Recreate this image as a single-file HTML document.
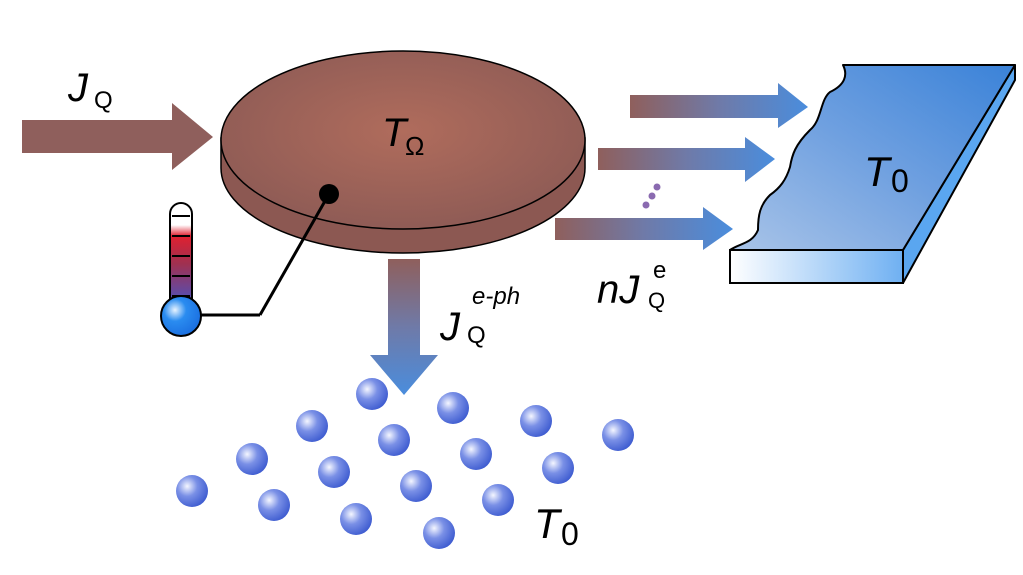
<!DOCTYPE html>
<html><head><meta charset="utf-8"><style>
html,body{margin:0;padding:0;background:#fff;width:1023px;height:575px;overflow:hidden}
svg{display:block}
text{font-family:"Liberation Sans",sans-serif;fill:#000}
</style></head><body>
<svg width="1023" height="575" viewBox="0 0 1023 575" xmlns="http://www.w3.org/2000/svg">
<defs>
<radialGradient id="disk" cx="0.5" cy="0.45" r="0.6">
<stop offset="0" stop-color="#b06c5c"/><stop offset="1" stop-color="#8c5a55"/>
</radialGradient>
<linearGradient id="hg" x1="0" y1="0" x2="1" y2="0">
<stop offset="0" stop-color="#8f5f5c"/><stop offset="0.5" stop-color="#6f7aa8"/><stop offset="1" stop-color="#4a8ddd"/>
</linearGradient>
<linearGradient id="vg" x1="0" y1="0" x2="0" y2="1">
<stop offset="0" stop-color="#8f5f5c"/><stop offset="0.5" stop-color="#6f7aa8"/><stop offset="1" stop-color="#4a8ddd"/>
</linearGradient>
<linearGradient id="slab" x1="0" y1="1" x2="1" y2="0">
<stop offset="0" stop-color="#a9c4e8"/><stop offset="0.5" stop-color="#6fa0e0"/><stop offset="1" stop-color="#3a82d8"/>
</linearGradient>
<linearGradient id="front" x1="0" y1="0" x2="1" y2="0">
<stop offset="0" stop-color="#ffffff"/><stop offset="1" stop-color="#6fb0f2"/>
</linearGradient>
<linearGradient id="therm" x1="0" y1="0" x2="0" y2="1">
<stop offset="0" stop-color="#fff"/><stop offset="0.2" stop-color="#fff"/><stop offset="0.3" stop-color="#e02030"/><stop offset="0.55" stop-color="#a03050"/><stop offset="1" stop-color="#3a5ad8"/>
</linearGradient>
<radialGradient id="ball" cx="0.35" cy="0.35" r="0.7">
<stop offset="0" stop-color="#f4f6ff"/><stop offset="0.45" stop-color="#7a90e6"/><stop offset="1" stop-color="#3e5cd0"/>
</radialGradient>
<radialGradient id="bulb" cx="0.35" cy="0.35" r="0.7">
<stop offset="0" stop-color="#e8f4ff"/><stop offset="0.4" stop-color="#2a8cf0"/><stop offset="1" stop-color="#1a6ee0"/>
</radialGradient>
</defs>

<polygon points="22,120 172,120 172,103 213,137 172,170 172,153 22,153" fill="#8f5f5c"/>
<text x="68" y="101" font-size="40" font-style="italic">J</text>
<text x="94" y="108" font-size="24">Q</text>

<path d="M221,138 L221,168 A182,85 0 0 0 585,168 L585,138 Z" fill="#8c5852" stroke="#000" stroke-width="1.5"/>
<ellipse cx="403" cy="140" rx="182" ry="89" fill="url(#disk)" stroke="#000" stroke-width="1.5"/>
<text x="382" y="146" font-size="40" font-style="italic">T</text>
<text x="405" y="155" font-size="26">Ω</text>

<line x1="329" y1="194" x2="260" y2="315" stroke="#000" stroke-width="3"/>
<line x1="260" y1="315" x2="195" y2="315" stroke="#000" stroke-width="3"/>
<circle cx="329" cy="194" r="10" fill="#000"/>
<rect x="170" y="203" width="22" height="110" rx="11" fill="url(#therm)" stroke="#000" stroke-width="2"/>
<g stroke="#000" stroke-width="2">
<line x1="172" y1="216" x2="190" y2="216"/><line x1="172" y1="236" x2="190" y2="236"/>
<line x1="172" y1="256" x2="190" y2="256"/><line x1="172" y1="276" x2="190" y2="276"/>
<line x1="172" y1="296" x2="190" y2="296"/></g>
<circle cx="181" cy="316" r="20" fill="url(#bulb)" stroke="#000" stroke-width="2"/>

<polygon points="388,259 420,259 420,355 438,355 404,395 370,355 388,355" fill="url(#vg)"/>
<text x="440" y="340" font-size="40" font-style="italic">J</text>
<text x="467" y="343" font-size="24">Q</text>
<text x="472" y="304" font-size="24" font-style="italic">e-ph</text>

<polygon points="630,95 778,95 778,83 808,107 778,128 778,118 630,118" fill="url(#hg)"/>
<polygon points="598,148 745,148 745,137 775,159 745,182 745,170 598,170" fill="url(#hg)"/>
<polygon points="555,218 703,218 703,207 733,229 703,250 703,240 555,240" fill="url(#hg)"/>
<g fill="#8a6ab0"><circle cx="657" cy="187" r="3.5"/><circle cx="652" cy="196" r="3.5"/><circle cx="646" cy="205" r="3.5"/></g>
<text x="597" y="303" font-size="40" font-style="italic">nJ</text>
<text x="648" y="308" font-size="22">Q</text>
<text x="653" y="278" font-size="24">e</text>

<polygon points="1015,65 1015,80 903,283 903,250" fill="#5aa6f0" stroke="#000" stroke-width="2" stroke-linejoin="round"/>
<rect x="730" y="250" width="173" height="33" fill="url(#front)" stroke="#000" stroke-width="2"/>
<path d="M843,65 L1015,65 L903,250 L730,250 C740,243 752,244 758,230 C758,215 760,205 770,195 C780,188 786,180 790,167 C792,155 795,145 810,130 C822,120 820,100 830,92 C845,85 848,75 843,65 Z" fill="url(#slab)" stroke="#000" stroke-width="2" stroke-linejoin="round"/>
<text x="864" y="186" font-size="42" font-style="italic">T</text>
<text x="891" y="192" font-size="32">0</text>

<g fill="url(#ball)">
<circle cx="372" cy="394" r="16"/><circle cx="453" cy="408" r="16"/><circle cx="312" cy="426" r="16"/>
<circle cx="394" cy="440" r="16"/><circle cx="536" cy="421" r="16"/><circle cx="618" cy="435" r="16"/>
<circle cx="252" cy="459" r="16"/><circle cx="334" cy="472" r="16"/><circle cx="476" cy="454" r="16"/>
<circle cx="558" cy="468" r="16"/><circle cx="192" cy="491" r="16"/><circle cx="274" cy="505" r="16"/>
<circle cx="416" cy="486" r="16"/><circle cx="498" cy="500" r="16"/><circle cx="356" cy="519" r="16"/>
<circle cx="439" cy="533" r="16"/>
</g>
<text x="534" y="538" font-size="42" font-style="italic">T</text>
<text x="561" y="545" font-size="32">0</text>
</svg>
</body></html>
